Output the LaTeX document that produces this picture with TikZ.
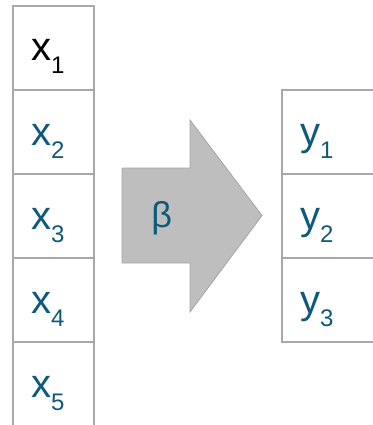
\documentclass[tikz,border=0pt]{standalone}
\usepackage{fontspec}
\setmainfont{Liberation Sans}
\usetikzlibrary{positioning}
\usepackage{xcolor}
\definecolor{gridline}{HTML}{A8A8A8}
\definecolor{petrol}{HTML}{0F5A7A}
\definecolor{arrowfill}{HTML}{BEBEBE}
\definecolor{arrowedge}{HTML}{A5A5A5}

% letter with a dropped index
\newcommand{\vsub}[2]{#1\raisebox{-13pt}{\fontsize{24}{24}\selectfont #2}}

\begin{document}
\begin{tikzpicture}[
    x=1pt, y=-1pt,
    cell/.style={rectangle, draw=gridline, line width=1.5pt, outer sep=0pt,
                 minimum height=84pt, inner xsep=18pt, inner ysep=0pt,
                 text height=41pt, text depth=15pt, align=left,
                 anchor=north west, font=\fontsize{40}{40}\selectfont},
    xcell/.style={cell, text width=45pt},
    ycell/.style={cell, text width=64pt, text=petrol},
    bigarrow/.style={draw=arrowedge, fill=arrowfill, line width=0.8pt, line join=miter},
  ]
    \useasboundingbox (0,0) rectangle (372,425);

    % input column
    \node[xcell, text=black] (x1) at (13,6) {\vsub{x}{1}};
    \foreach \i in {2,...,5}
      \node[xcell, text=petrol] (x\i) at (13,{6+84*(\i-1)}) {\vsub{x}{\i}};

    % output column
    \foreach \i in {1,2,3}
      \node[ycell] (y\i) at (282,{90+84*(\i-1)}) {\vsub{y}{\i}};

    % mapping arrow
    \draw[bigarrow] (122,168) -- (190,168) -- (190,120) -- (262,215.5)
      -- (190,312) -- (190,263) -- (122,263) -- cycle;
    \node[anchor=base, text=petrol, font=\fontsize{36}{36}\selectfont,
          inner sep=0pt] (beta) at (161.7,227.5) {β};
\end{tikzpicture}
\end{document}
